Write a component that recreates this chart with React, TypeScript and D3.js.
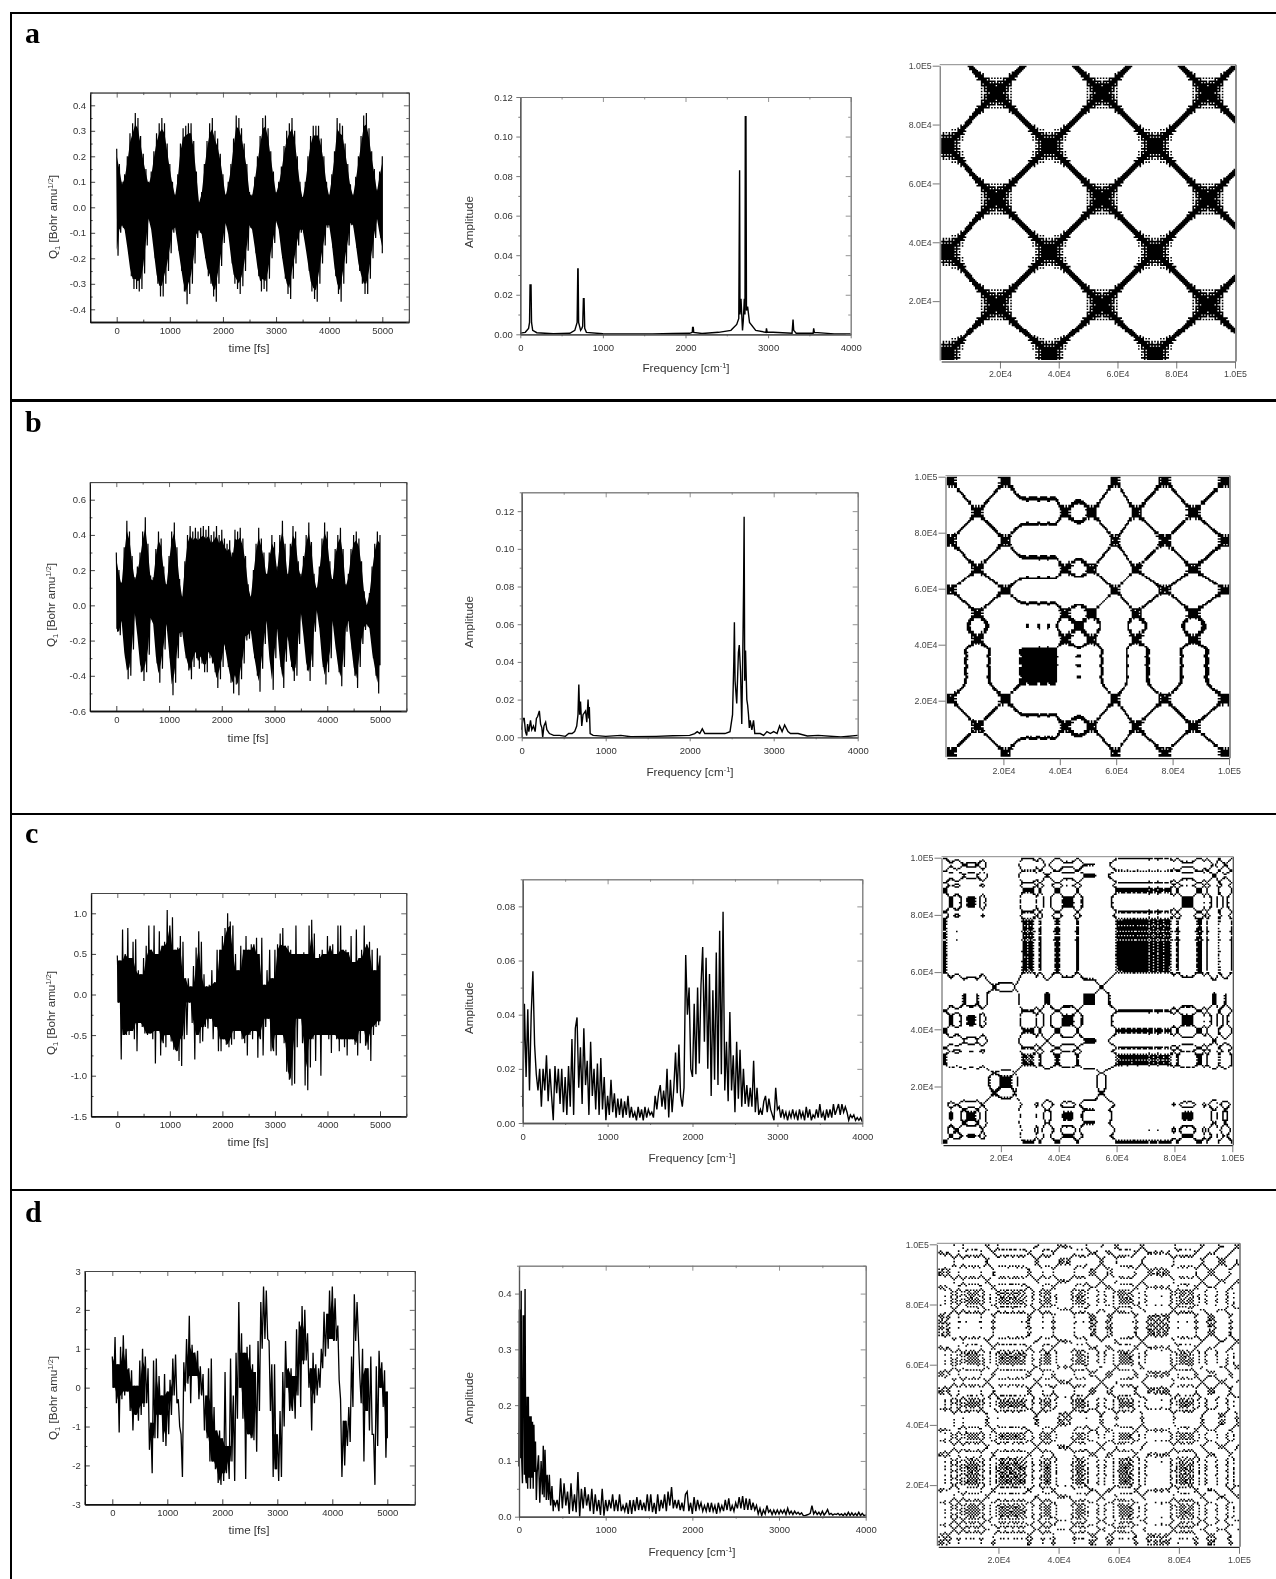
import React, { useRef, useEffect } from "react";
import * as d3 from "d3";

// All series below (no source data available).
// Time traces: upper and lower edge of the black band, one value per 50 fs.
const qAHi = [.23,.17,.10,.13,.20,.29,.33,.37,.35,.28,.21,.15,.10,.14,.22,.29,.33,.35,.33,.25,.17,.10,.05,.13,.25,.31,.32,.33,.33,.26,.14,.02,.06,.17,.26,.33,.35,.30,.27,.21,.13,.05,.10,.17,.27,.36,.35,.31,.25,.17,.06,.05,.12,.20,.28,.35,.36,.31,.22,.14,.06,.10,.16,.24,.30,.33,.35,.30,.20,.10,.04,.10,.20,.28,.32,.32,.32,.27,.20,.10,.05,.13,.22,.35,.33,.32,.25,.17,.09,.05,.12,.20,.28,.36,.37,.31,.22,.15,.07,.14,.20];
const qALo = [-.19,-.10,-.08,-.10,-.18,-.27,-.32,-.32,-.33,-.32,-.26,-.15,-.05,-.10,-.20,-.30,-.35,-.35,-.30,-.25,-.18,-.10,-.09,-.17,-.25,-.33,-.38,-.34,-.30,-.22,-.12,-.10,-.12,-.20,-.27,-.30,-.35,-.37,-.30,-.23,-.14,-.07,-.12,-.22,-.30,-.32,-.34,-.31,-.25,-.17,-.08,-.10,-.18,-.27,-.33,-.32,-.33,-.28,-.20,-.14,-.06,-.10,-.20,-.28,-.34,-.36,-.28,-.22,-.15,-.10,-.10,-.17,-.25,-.33,-.36,-.37,-.30,-.22,-.15,-.08,-.08,-.16,-.27,-.34,-.37,-.30,-.22,-.15,-.07,-.08,-.16,-.25,-.30,-.34,-.34,-.28,-.20,-.12,-.05,-.12,-.18];
const qBHi = [.30,.20,.13,.33,.48,.42,.28,.16,.22,.30,.42,.50,.35,.17,.16,.32,.42,.38,.22,.12,.28,.42,.47,.33,.15,.05,.25,.40,.45,.42,.44,.42,.44,.45,.43,.45,.40,.42,.45,.40,.43,.38,.35,.37,.30,.43,.42,.44,.38,.28,.12,.05,.20,.35,.44,.38,.30,.18,.30,.40,.36,.22,.40,.48,.35,.18,.35,.45,.42,.25,.18,.28,.40,.47,.36,.18,.10,.22,.38,.47,.42,.25,.15,.32,.40,.44,.32,.12,.18,.32,.40,.42,.38,.25,.08,0,.07,.22,.35,.42,.40];
const qBLo = [-.15,-.17,-.10,-.30,-.42,-.40,-.25,-.05,-.20,-.38,-.43,-.38,-.28,-.08,-.12,-.33,-.44,-.36,-.25,-.12,-.30,-.51,-.44,-.30,-.18,-.17,-.30,-.37,-.42,-.35,-.30,-.36,-.33,-.38,-.38,-.30,-.33,-.38,-.47,-.42,-.35,-.25,-.35,-.44,-.50,-.45,-.51,-.42,-.33,-.20,-.19,-.16,-.30,-.40,-.49,-.36,-.22,-.10,-.33,-.48,-.30,-.15,-.35,-.47,-.32,-.20,-.35,-.43,-.40,-.22,-.05,-.20,-.37,-.43,-.35,-.15,-.03,-.15,-.35,-.45,-.38,-.30,-.10,-.25,-.38,-.46,-.35,-.15,-.10,-.25,-.40,-.47,-.35,-.22,-.14,-.12,-.15,-.30,-.40,-.50,-.34];
const qCHi = [.48,.42,.80,.50,.82,.45,.65,.68,.30,.25,.45,.60,.85,.55,.85,.50,.78,.60,.65,1.04,.85,.95,.55,.58,.72,.65,.20,.20,.10,.35,.58,.78,.65,.25,.10,.12,.30,.15,.55,.55,.72,.82,1.0,.90,.85,.50,.30,.60,.55,.72,.55,.62,.62,.70,.50,.70,.12,.30,.55,.20,.55,.62,.75,.82,.60,.60,.55,.50,.85,.50,.50,.52,.50,.85,.92,.75,.45,.50,.55,.50,.72,.60,.62,.50,.85,.85,.55,.55,.52,.72,.40,.80,.45,.55,.85,.62,.65,.55,.30,.57,.48];
const qCLo = [-.10,-.80,-.50,-.50,-.50,-.45,-.55,-.70,-.35,-.40,-.48,-.50,-.48,-.55,-.85,-.45,-.75,-.60,-.65,-.50,-.58,-.68,-.70,-.82,-.88,-.55,-.50,-.10,-.35,-.80,-.50,-.60,-.58,-.40,-.42,-.30,-.55,-.40,-.70,-.70,-.55,-.62,-.65,-.62,-.55,-.45,-.45,-.55,-.60,-.75,-.50,-.55,-.45,-.78,-.55,-.75,-.40,-.30,-.70,-.70,-.75,-.50,-.50,-.60,-.95,-1.05,-1.12,-1.10,-.65,-.30,-.60,-1.12,-1.18,-.90,-.55,-.82,-.50,-1.0,-.50,-.50,-.55,-.72,-.50,-.55,-.70,-.55,-.65,-.75,-.55,-.55,-.62,-.75,-.60,-.45,-.63,-.68,-.82,-.50,-.40,-.38,-.33];
const qDHi = [.8,1.3,.6,1.05,1.35,1.0,.5,.45,.05,.05,.7,1.0,.8,.5,-.9,.7,.75,.3,-.2,.35,-.1,.2,.75,.85,-.3,-1.2,.65,1.25,1.85,1.1,.9,.95,.55,.35,-.2,.5,.75,-.5,-1.1,-1.1,-1.3,.4,-1.5,.75,-.2,.9,2.2,1.4,.9,1.05,1.1,.6,.4,1.2,2.2,2.6,2.5,1.2,.6,.6,-1.2,-.6,.4,1.2,.5,.5,.3,1.5,1.7,2.1,2.0,1.4,.5,.9,.6,.5,1.0,1.95,1.9,2.5,2.6,2.3,1.6,-.3,-.85,-.85,-.5,.8,2.4,2.2,.3,1.0,.5,.5,.8,-1.2,.55,.95,.65,.45,-.1];
const qDLo = [0,-.4,-1.15,-.3,-.2,-.1,-.6,-1.1,-.7,-.85,-.7,-.5,-.4,-1.6,-2.2,-1.3,-1.3,-.7,-1.4,-1.5,-1.2,-.7,-.2,-.4,-1.0,-2.3,-.1,.1,-.4,.3,.3,-.3,-.2,-1.1,-1.3,-1.9,-1.9,-2.1,-2.45,-2.5,-2.4,-2.2,-2.35,-1.9,-2.4,-.8,0,-.8,-2.35,-1.2,-1.3,-1.35,-1.65,-.6,1.0,1.25,1.25,-.6,-2.3,-2.1,-2.4,-2.3,-1.0,0,-.6,-.6,-.8,-.2,-.5,.6,.7,0,-1.1,-.4,-.2,0,.5,.8,1.0,1.25,1.2,1.2,.2,-2.3,-2.0,-1.5,-1.4,-.5,1.2,1.3,-.4,-1.9,-.6,-1.1,-1.2,-2.5,-1.5,0,-.5,-1.8,-1.3];

// Spectra with isolated peaks: frequency and amplitude pairs
const specAFreq = [0,60,100,112,118,122,130,136,150,200,400,600,660,688,696,700,706,730,745,755,764,772,780,800,1000,1600,1850,2050,2082,2086,2094,2100,2200,2400,2550,2620,2645,2655,2660,2672,2690,2700,2712,2720,2724,2732,2738,2752,2775,2850,2975,2980,2990,3060,3290,3302,3310,3340,3545,3552,3560,3800,4000];
const specAAmp = [.0006,.001,.003,.006,.025,.025,.025,.006,.002,.0008,.0003,.0005,.002,.006,.033,.033,.006,.002,.003,.004,.018,.018,.003,.001,.0003,.0002,.0004,.0005,.001,.0035,.0035,.001,.0004,.001,.002,.005,.008,.083,.01,.018,.002,.007,.018,.01,.11,.11,.012,.014,.006,.002,.001,.003,.001,.001,.0005,.0075,.002,.0005,.0005,.003,.001,.0002,.0002];
const specBFreq = [0,15,30,45,60,70,85,105,120,140,160,175,190,210,225,240,250,265,285,300,330,380,450,520,560,600,630,655,670,680,690,700,715,730,745,760,775,790,800,805,815,850,1000,1180,1300,1600,1800,2000,2060,2090,2120,2150,2180,2300,2420,2480,2510,2525,2532,2540,2560,2580,2590,2605,2620,2635,2642,2648,2655,2665,2680,2690,2700,2710,2720,2740,2760,2775,2840,2880,2920,2960,3000,3040,3070,3100,3130,3170,3200,3290,3400,3530,3800,4000];
const specBAmp = [.004,.010,.010,.003,.001,.007,.003,.009,.004,.006,.003,.010,.011,.014,.007,.005,0,.006,.008,.004,.002,.001,.001,.0005,.002,.002,.003,.006,.012,.028,.012,.019,.006,.012,.013,.014,.008,.020,.010,.016,.002,.001,.0005,.001,.0003,.0005,.0008,.001,.002,.003,.002,.0045,.002,.002,.002,.003,.012,.04,.061,.03,.018,.045,.049,.035,.007,.055,.082,.117,.03,.046,.02,.017,.012,.005,.009,.004,.009,.002,.002,.001,.003,.002,.003,.002,.006,.003,.0065,.003,.002,.002,.0007,.001,.0002,.001];
// Noisy spectra: one amplitude per 20 cm-1
const specCAmp = [.006,.044,.017,.042,.012,.04,.056,.029,.018,.012,.02,.006,.02,.012,.025,.008,.02,.01,.001,.021,.011,.02,.007,.02,.004,.017,.003,.021,.006,.031,.003,.035,.039,.013,.028,.007,.035,.014,.023,.003,.03,.01,.02,.005,.022,.003,.024,.005,.017,.001,.01,.003,.016,.004,.011,.002,.009,.003,.009,.002,.008,.003,.010,.002,.006,.002,.004,.001,.006,.002,.005,.001,.006,.002,.005,.003,.004,.002,.01,.005,.011,.014,.006,.012,.005,.02,.002,.016,.004,.013,.026,.011,.029,.01,.006,.013,.062,.04,.05,.02,.017,.044,.018,.05,.022,.051,.065,.03,.061,.02,.055,.01,.049,.016,.063,.014,.071,.018,.078,.012,.03,.008,.041,.012,.025,.004,.03,.009,.027,.006,.02,.007,.014,.006,.013,.006,.023,.004,.013,.003,.005,.003,.008,.01,.004,.009,.005,.003,.001,.013,.005,.006,.002,.005,.002,.004,.001,.004,.002,.005,.002,.004,.001,.005,.002,.004,.001,.006,.002,.005,.001,.003,.002,.005,.002,.007,.002,.004,.001,.005,.002,.005,.002,.007,.003,.005,.007,.003,.007,.004,.006,.004,.001,.003,.002,.003,.001,.002,.001,.002,.0005];
const specDLowFreq = [0,5,12,18,25,32,40,48,55,62,70,78,85,92,100,108,116,124,132,140,148,156,164,172,180,190,200,210,225,240,255,270,280,290,300,315,325,340,350,365,380,395];
const specDLowAmp = [.09,.37,.37,.105,.405,.1,.06,.36,.36,.075,.408,.07,.06,.215,.05,.215,.07,.18,.05,.18,.07,.17,.05,.165,.08,.135,.03,.08,.11,.025,.10,.04,.127,.035,.12,.03,.075,.03,.075,.02,.055,.01];
const specDHighAmp = [.03,.02,.03,.01,.069,.015,.06,.02,.045,.005,.06,.01,.04,.008,.08,0,.05,.015,.053,.02,.04,.01,.05,.005,.04,.01,.03,.003,.05,.002,.03,.01,.03,.015,.04,.01,.03,.01,.04,.01,.02,.01,.025,.005,.03,.005,.03,.01,.035,.012,.03,.012,.025,.01,.04,.01,.04,.008,.025,.005,.04,.01,.03,.015,.04,.01,.045,.02,.053,.015,.03,.015,.03,.012,.025,.01,.04,.045,.01,.025,.005,.035,.01,.03,.015,.025,.01,.02,.01,.025,.008,.025,.01,.02,.005,.025,.01,.02,.01,.03,.012,.033,.01,.02,.01,.025,.015,.035,.015,.037,.012,.033,.012,.032,.012,.025,.012,.02,.005,.015,.002,.012,.005,.02,.008,.012,.004,.012,.005,.012,.005,.012,.006,.012,.004,.015,.005,.01,.004,.01,.005,.008,.004,.007,.002,.002,.003,.004,.006,.02,.005,.01,.004,.008,.003,.01,.003,.007,.013,.004,.006,.003,.005,.004,.006,.003,.005,.002,.006,.002,.008,.002,.007,.002,.006,.002,.008,.002,.006,.002,.003];

// Recurrence plots: a state value per 500 steps, read back from where the blobs and lines sit.
// A cell is black when the states of its row and column are close, as in any recurrence plot.
const stateA = [
  1.04,.92,1.07,.93,1.07,.92,1.04,.87,.98,.8,.89,.7,.78,.57,.64,.5,.38,.26,.15,.05,
  -.03,-.17,-.26,-.34,-.42,-.5,-.5,-.71,-.64,-.84,-.75,-.94,-.84,-1.01,-.9,-1.06,-.93,-1.07,-.93,-1.06,
  -.9,-1.01,-.84,-.94,-.75,-.84,-.64,-.71,-.5,-.5,-.42,-.34,-.26,-.17,-.09,0,.09,.17,.26,.34,
  .42,.5,.64,.57,.78,.7,.89,.8,.98,.87,1.04,.92,1.07,.93,1.07,.92,1.04,.87,.98,.8,
  .89,.7,.78,.57,.64,.5,.42,.34,.26,.17,.09,0,-.09,-.17,-.26,-.34,-.42,-.5,-.5,-.71,
  -.64,-.84,-.75,-.94,-.84,-1.01,-.9,-1.06,-.93,-1.07,-.93,-1.06,-.9,-1.01,-.84,-.94,-.75,-.84,-.64,-.71,
  -.5,-.5,-.42,-.34,-.26,-.17,-.09,0,.09,.17,.26,.34,.42,.5,.64,.57,.78,.7,.89,.8,
  .98,.87,1.04,.92,1.07,.93,1.07,.92,1.04,.87,.98,.8,.89,.7,.78,.57,.64,.5,.42,.34,
  .26,.17,.09,0,-.09,-.17,-.26,-.34,-.42,-.5,-.5,-.71,-.64,-.84,-.75,-.94,-.84,-1.01,-.9,-1.06,
  -.93,-1.07,-.93,-1.06,-.9,-1.01,-.84,-.94,-.75,-.84,-.64,-.71,-.5,-.5,-.42,-.34,-.26,-.17,-.09,0,
];
const stateB = [
  .99,.94,1.05,.94,.99,.83,.84,.63,.55,.4,.25,.08,-.08,-.25,-.4,-.55,-.63,-.84,-.83,-1.0,
  -.94,-1.05,-.94,-1.0,-.84,-.86,-.66,-.59,-.45,-.31,-.16,0,.16,.31,.45,.59,.76,.76,.94,.9,
  1.04,.95,1.03,.88,.9,.69,.66,.46,.32,.17,.04,-.07,-.15,-.2,-.22,-.2,-.32,-.31,-.21,-.24,
  -.2,-.23,-.21,-.24,-.32,-.33,-.2,-.23,-.21,-.24,-.22,-.33,-.31,-.2,-.24,-.22,-.21,-.32,-.5,-.72,
  -.8,-.95,-.93,-1.05,-.94,-1.0,-.84,-.86,-.68,-.69,-.56,-.5,-.46,-.45,-.47,-.52,-.6,-.72,-.76,-.94,
  -.9,-1.03,-.95,-1.03,-.88,-.9,-.69,-.65,-.45,-.27,-.09,.09,.27,.45,.65,.69,.9,.88,1.03,.95,
  1.02,.85,.83,.57,.43,.22,0,-.22,-.43,-.67,-.73,-.95,-.92,-1.05,-.94,-1.0,-.85,-.88,-.68,-.67,
  -.5,-.37,-.22,-.07,.07,.22,.37,.5,.67,.68,.88,.85,1.0,.94,1.05,.94,1.0,.84,.86,.66,
  .59,.45,.31,.16,0,-.16,-.31,-.45,-.59,-.76,-.76,-.94,-.9,-1.04,-.95,-1.04,-.91,-.97,-.8,-.82,
  -.63,-.58,-.46,-.34,-.21,-.07,.07,.21,.34,.46,.58,.63,.82,.8,.97,.91,1.04,.95,1.04,.91,
];
const stateC = [
  0,0,-.1,-.3,-.5,-.6,-.5,-.38,-.28,-.22,-.28,-.4,-.55,-.68,-.78,-.72,-.62,-.56,-.53,-.55,
  -.53,-.56,-.65,-.78,-.7,-.5,-.35,-.25,-.4,-.62,-.85,-1.05,-1.25,-1.4,-1.5,-1.55,-1.5,-1.4,-1.3,-1.22,
  -1.15,-1.12,-1.16,-1.13,-1.16,-1.12,-1.15,-1.25,-1.4,-1.55,-1.4,-1.1,-.8,-.45,-.15,0,-.07,.03,-.09,.05,
  -.06,.02,-.1,-.2,-.45,-.3,-.08,-.05,-.25,-.5,-.72,-.88,-.86,-.72,-.55,-.35,-.2,-.08,-.02,-.02,
  -.08,-.25,-.45,-.55,-.53,-.5,-.55,-.52,-.56,-.5,-.4,-.2,-.04,-.06,-.25,-.45,-.6,-.75,-.8,-.78,
  -.82,-.79,-.81,-.78,-.82,-.95,-1.15,-1.4,-1.55,-1.55,-1.55,-1.4,-1.2,-1.0,-.85,-.7,-.55,-.4,-.25,-.1,
  .06,-.06,.03,-.05,.02,-.03,.03,-.04,.02,-.02,.04,-.03,0,.03,-.04,.02,-.02,.03,-.03,.02,
  -.03,.03,-.12,.02,-.02,.1,-.03,.03,-.12,.02,-.03,.03,.1,-.03,.03,-.04,.06,-.1,-.2,-.35,
  -.22,-.08,-.05,-.2,-.38,-.5,-.53,-.56,-.5,-.54,-.52,-.56,-.5,-.38,-.2,-.08,-.02,0,-.02,-.2,
  -.4,-.25,-.05,-.2,-.4,-.6,-.78,-.85,-.78,-.5,-.1,-.15,-.35,-.55,-.7,-.72,-.6,-.4,-.2,-.05,
];
const stateD = [
  .9,.6,1.0,.7,.3,.8,1.1,.7,.2,-.3, -.7,-.3,.2,.6,.3,-.2,-.6,-.2,.35,.1,
  -.2,.2,-.1,.25,-.15,.1,-.25,.3,.6,.2, -.3,-.7,-.95,-.6,-.1,.5,.9,.6,.1,-.4,
  -.15,.2,-.05,.15,-.2,.1,.25,-.1,.05,-.25, .15,-.05,.25,-.2,.1,.3,-.15,.05,.4,.75,
  1.0,.65,.2,-.35,-.8,-1.0,-.7,-.3,.25,.6, .15,-.2,.1,-.15,.2,.5,.85,.45,-.1,-.55,
  -.95,-.7,-1.1,-.85,-.5,-.9,-1.15,-.8,-.35,.2, .7,.3,-.1,.2,-.2,.15,.3,-.25,-.5,.05,
  .6,1.0,.75,1.1,.8,.35,-.2,-.75,-1.05,-.7, -.2,.4,.9,.55,1.05,.7,.2,-.45,-.9,-.4,
  .15,-.15,.2,-.2,.1,-.1,.25,-.05,-.25,.3, .65,.95,.5,0,-.5,-.95,-.6,-.15,.4,.85,
  1.1,.8,1.2,.95,.55,.9,1.2,.85,.45,.9, 1.15,.7,1.05,.6,.2,-.3,-.75,-.4,.1,.5,
  .15,-.15,.25,-.2,.05,.3,-.25,.1,-.3,.2, .55,.9,.45,-.1,-.6,-1.0,-.7,-.2,.3,.75,
  1.05,.75,1.15,.85,.4,-.15,-.65,-1.05,-.8,-1.1, -.75,-.3,.2,.7,.95,.5,0,-.5,-.95,-.55,
];

const timeMajor = [0, 1000, 2000, 3000, 4000, 5000];
const timeMinor = [-500, 500, 1500, 2500, 3500, 4500, 5500];
const freqMajor = [0, 1000, 2000, 3000, 4000];
const freqMinor = [500, 1500, 2500, 3500];
const recurrenceTicks = [2e4, 4e4, 6e4, 8e4, 1e5];

const zipPairs = (f: number[], a: number[]) => f.map((v, i) => [v, a[i]]);
const stepped = (start: number, step: number, a: number[]) => a.map((v, i) => [start + i * step, v]);

const letters = [
  { text: "a", y: 43 },
  { text: "b", y: 432 },
  { text: "c", y: 843 },
  { text: "d", y: 1222 },
];
const separators = [{ y: 13, w: 2 }, { y: 400.5, w: 3 }, { y: 814, w: 2 }, { y: 1190, w: 2 }];

const timePanels = [
  { hi: qAHi, lo: qALo, smooth: true, x: [116.7, 382.3], y: [309.3, 105.3], yDom: [-0.4, 0.4], top: 0.45, bottom: -0.45, major: d3.range(-4, 5).map((d) => d / 10), minor: d3.range(-4.5, 5, 1).map((d) => d / 10), dec: 1, labelX: 57, labelY: 217, titleX: 249, titleY: 352, w: 1.2 },
  { hi: qBHi, lo: qBLo, smooth: true, x: [116.3, 380], y: [711, 499.7], yDom: [-0.6, 0.6], top: 0.7, bottom: -0.6, major: d3.range(-6, 7, 2).map((d) => d / 10), minor: d3.range(-5, 8, 2).map((d) => d / 10), dec: 1, labelX: 55, labelY: 605, titleX: 248, titleY: 742, w: 1.2 },
  { hi: qCHi, lo: qCLo, smooth: false, x: [117.3, 380], y: [1116.3, 913.3], yDom: [-1.5, 1], top: 1.25, bottom: -1.5, major: [-1.5, -1, -0.5, 0, 0.5, 1], minor: [-1.25, -0.75, -0.25, 0.25, 0.75, 1.25], dec: 1, labelX: 55, labelY: 1013, titleX: 248, titleY: 1146, w: 1.2 },
  { hi: qDHi, lo: qDLo, smooth: false, x: [112.3, 387.3], y: [1504.3, 1271], yDom: [-3, 3], top: 3, bottom: -3, major: d3.range(-3, 4), minor: d3.range(-2.5, 3, 1), dec: 0, labelX: 57, labelY: 1398, titleX: 249, titleY: 1534, w: 1.3 },
];

const specPanels = [
  { pts: zipPairs(specAFreq, specAAmp), x: [520.3, 850.7], y: [334.3, 97], top: 0.12, major: d3.range(0, 7).map((d) => d * 0.02), minor: d3.range(0, 6).map((d) => d * 0.02 + 0.01), labelY: 222, titleX: 686, titleY: 372 },
  { pts: zipPairs(specBFreq, specBAmp), x: [521.7, 857.7], y: [737.3, 492.3], top: 0.13, major: d3.range(0, 7).map((d) => d * 0.02), minor: d3.range(0, 7).map((d) => d * 0.02 + 0.01), labelY: 622, titleX: 690, titleY: 776 },
  { pts: stepped(0, 20, specCAmp), x: [522.7, 862.3], y: [1123, 879.3], top: 0.09, major: d3.range(0, 5).map((d) => d * 0.02), minor: d3.range(0, 5).map((d) => d * 0.02 + 0.01), labelY: 1008, titleX: 692, titleY: 1162 },
  { pts: [...zipPairs(specDLowFreq, specDLowAmp), ...stepped(400, 20, specDHighAmp)], x: [519, 865.7], y: [1516.7, 1265.7], top: 0.45, major: [0, 0.1, 0.2, 0.3, 0.4], minor: [0.05, 0.15, 0.25, 0.35, 0.45], labelY: 1398, titleX: 692, titleY: 1556 },
];

const recurrencePanels = [
  { state: stateA, eps: 0.23, x: [941.2, 1235], y: [360, 65.7] },
  { state: stateB, eps: 0.17, x: [947, 1229], y: [756.7, 476.7] },
  { state: stateC, eps: 0.11, x: [943, 1232.3], y: [1143.7, 857.7] },
  { state: stateD, eps: 0.18, x: [938.3, 1239], y: [1545.3, 1244.3] },
];

const FONT = "'Liberation Sans', Arial, sans-serif";
const INK = "#333";

function styleAxis(g: any, color: string) {
  g.selectAll("path").attr("stroke", color);
  g.selectAll("line").attr("stroke", color).attr("stroke-width", 0.8);
  g.selectAll("text").attr("fill", INK).style("font-family", FONT).style("font-size", "9.5px");
}

function frameAxes(svg: any, x: any, y: any, p: any, opts: any) {
  const [l, r] = x.range();
  const [b, t] = y.range();
  const none = () => "";
  const add = (axis: any, tx: number, ty: number, color: string, sw: number) => {
    const g = svg.append("g").attr("transform", `translate(${tx},${ty})`).call(axis);
    styleAxis(g, color);
    g.select("path").attr("stroke-width", sw);
  };
  const ls = opts.leftTick;
  add(d3.axisLeft(y).tickValues(p.major).tickSize(ls).tickSizeOuter(0).tickPadding(opts.leftPad).tickFormat(opts.fmt), l, 0, opts.dark, 1.2);
  add(d3.axisLeft(y).tickValues(p.minor).tickSize(ls / 2).tickSizeOuter(0).tickFormat(none), l, 0, opts.dark, 1.2);
  add(d3.axisBottom(x).tickValues(opts.xMajor).tickSize(ls).tickSizeOuter(0).tickPadding(opts.bottomPad).tickFormat((d: number) => String(d)), 0, b, opts.dark, 1.4);
  add(d3.axisBottom(x).tickValues(opts.xMinor).tickSize(ls / 2).tickSizeOuter(0).tickFormat(none), 0, b, opts.dark, 1.4);
  add(d3.axisTop(x).tickValues(opts.xMajor).tickSize(-5).tickSizeOuter(0).tickFormat(none), 0, t, opts.light, 0.9);
  add(d3.axisTop(x).tickValues(opts.xMinor).tickSize(-2.5).tickSizeOuter(0).tickFormat(none), 0, t, opts.light, 0.9);
  add(d3.axisRight(y).tickValues(p.major).tickSize(-5).tickSizeOuter(0).tickFormat(none), r, 0, opts.light, 0.9);
  add(d3.axisRight(y).tickValues(p.minor).tickSize(-2.5).tickSizeOuter(0).tickFormat(none), r, 0, opts.light, 0.9);
}

function title(svg: any, x: number, y: number, rotate: boolean, parts: [string, string?][]) {
  const t = svg
    .append("text")
    .attr("text-anchor", "middle")
    .attr("fill", INK)
    .style("font-family", FONT)
    .attr("transform", rotate ? `translate(${x},${y}) rotate(-90)` : `translate(${x},${y})`);
  let shift = 0;
  parts.forEach(([s, kind]) => {
    const dy = kind === "sub" ? 2.5 : kind === "sup" ? -4 : 0;
    t.append("tspan")
      .attr("dy", dy - shift)
      .style("font-size", kind ? "7.5px" : "11.7px")
      .text(s);
    shift = dy;
  });
}

function drawTime(svg: any, p: any) {
  const unit = (p.x[1] - p.x[0]) / 5000;
  const x = d3.scaleLinear().domain([-500, 5500]).range([p.x[0] - 500 * unit, p.x[1] + 500 * unit]);
  const perUnit = (p.y[0] - p.y[1]) / (p.yDom[1] - p.yDom[0]);
  const y = d3
    .scaleLinear()
    .domain([p.bottom, p.top])
    .range([p.y[0] + (p.yDom[0] - p.bottom) * perUnit, p.y[1] - (p.top - p.yDom[1]) * perUnit]);

  // solid core of the band: most of the envelope where it is smooth, otherwise
  // only what the neighbouring readings share
  const core = p.hi.map((h: number, i: number) => {
    const from = Math.max(0, i - 1);
    return {
      t: i * 50,
      top: p.smooth ? h * 0.88 : (d3.min(p.hi.slice(from, i + 2)) as number),
      low: p.smooth ? p.lo[i] * 0.88 : (d3.max(p.lo.slice(from, i + 2)) as number),
    };
  });
  const area = d3
    .area()
    .defined((d: any) => d.top > d.low)
    .x((d: any) => x(d.t))
    .y0((d: any) => y(d.low))
    .y1((d: any) => y(d.top));
  svg.append("path").attr("d", area(core)).attr("fill", "#000");

  // spikes: alternate between the two edges
  const pts = p.hi.flatMap((h: number, i: number) => [[i * 50, h], [Math.min(5000, i * 50 + 25), p.lo[i]]]);
  const line = d3.line().x((d: any) => x(d[0])).y((d: any) => y(d[1]));
  svg.append("path").attr("d", line(pts)).attr("fill", "none").attr("stroke", "#000").attr("stroke-width", p.w);

  frameAxes(svg, x, y, p, {
    fmt: (d: number) => d.toFixed(p.dec),
    xMajor: timeMajor,
    xMinor: timeMinor,
    leftTick: -5,
    leftPad: 4,
    bottomPad: 5,
    dark: "#111",
    light: "#444",
  });
  title(svg, p.labelX, p.labelY, true, [["Q"], ["1", "sub"], [" [Bohr amu"], ["1/2", "sup"], ["]"]]);
  title(svg, p.titleX, p.titleY, false, [["time [fs]"]]);
}

function drawSpec(svg: any, p: any) {
  const x = d3.scaleLinear().domain([0, 4000]).range(p.x);
  const y = d3.scaleLinear().domain([0, p.top]).range(p.y);
  const line = d3.line().x((d: any) => x(d[0])).y((d: any) => y(d[1]));
  svg.append("path").attr("d", line(p.pts)).attr("fill", "none").attr("stroke", "#000").attr("stroke-width", 1.4);
  frameAxes(svg, x, y, p, {
    fmt: (d: number) => d.toFixed(p.top > 0.2 ? 1 : 2),
    xMajor: freqMajor,
    xMinor: freqMinor,
    leftTick: 4,
    leftPad: 3.5,
    bottomPad: 6,
    dark: "#555",
    light: "#777",
  });
  title(svg, 473, p.labelY, true, [["Amplitude"]]);
  title(svg, p.titleX, p.titleY, false, [["Frequency [cm"], ["-1", "sup"], ["]"]]);
}

function drawRecurrence(svg: any, p: any) {
  const x = d3.scaleLinear().domain([0, 1e5]).range(p.x);
  const y = d3.scaleLinear().domain([0, 1e5]).range(p.y);
  const step = 1e5 / p.state.length;
  const cells = d3.path();
  const w = x(step) - x(0) + 0.1;
  const h = y(0) - y(step) + 0.1;
  p.state.forEach((a: number, i: number) => {
    p.state.forEach((b: number, j: number) => {
      if (Math.abs(a - b) < p.eps) cells.rect(x(i * step), y((j + 1) * step), w, h);
    });
  });
  svg.append("path").attr("d", cells.toString()).attr("fill", "#000");
  const fmt = (d: number) => d.toExponential(1).toUpperCase().replace("E+", "E");
  const left = svg
    .append("g")
    .attr("transform", `translate(${p.x[0] - 1.5},0)`)
    .call(d3.axisLeft(y).tickValues(recurrenceTicks).tickSize(7).tickSizeOuter(0).tickPadding(1).tickFormat(fmt));
  const bottom = svg
    .append("g")
    .attr("transform", `translate(0,${p.y[0] + 1.5})`)
    .call(d3.axisBottom(x).tickValues(recurrenceTicks).tickSize(7).tickSizeOuter(0).tickPadding(2.5).tickFormat(fmt));
  [left, bottom].forEach((g) => {
    styleAxis(g, "#555");
    g.selectAll("text").style("font-size", "8.8px").attr("fill", "#444");
  });
  bottom.select("path").attr("stroke", "#222").attr("stroke-width", 1.2);
  const frame = svg.append("g").attr("fill", "none");
  frame.append("line").attr("x1", p.x[0] - 1.5).attr("x2", p.x[1] + 1).attr("y1", p.y[1] - 1).attr("y2", p.y[1] - 1).attr("stroke", "#888");
  frame.append("line").attr("x1", p.x[1] + 1).attr("x2", p.x[1] + 1).attr("y1", p.y[1] - 1).attr("y2", p.y[0] + 1.5).attr("stroke", "#444").attr("stroke-width", 1.2);
}

export default function App() {
  const svgRef = useRef<SVGSVGElement | null>(null);

  useEffect(() => {
    const svg = d3.select(svgRef.current);
    svg.selectAll("*").remove();

    svg.append("rect").attr("width", 1276).attr("height", 1579).attr("fill", "#fff");

    separators.forEach((s) => {
      svg.append("line").attr("x1", 10).attr("x2", 1276).attr("y1", s.y).attr("y2", s.y).attr("stroke", "#000").attr("stroke-width", s.w);
    });
    svg.append("line").attr("x1", 11).attr("x2", 11).attr("y1", 12).attr("y2", 1579).attr("stroke", "#000").attr("stroke-width", 2);

    letters.forEach((l) => {
      svg.append("text").attr("x", 25).attr("y", l.y).text(l.text)
        .style("font-family", "'Liberation Serif', serif").style("font-weight", "bold").style("font-size", "30px");
    });

    timePanels.forEach((p) => drawTime(svg, p));
    specPanels.forEach((p) => drawSpec(svg, p));
    recurrencePanels.forEach((p) => drawRecurrence(svg, p));
  }, []);

  return (
    <svg
      ref={svgRef}
      width={1276}
      height={1579}
      style={{ position: "absolute", left: 0, top: 0, display: "block", filter: "blur(0.35px)" }}
    />
  );
}
